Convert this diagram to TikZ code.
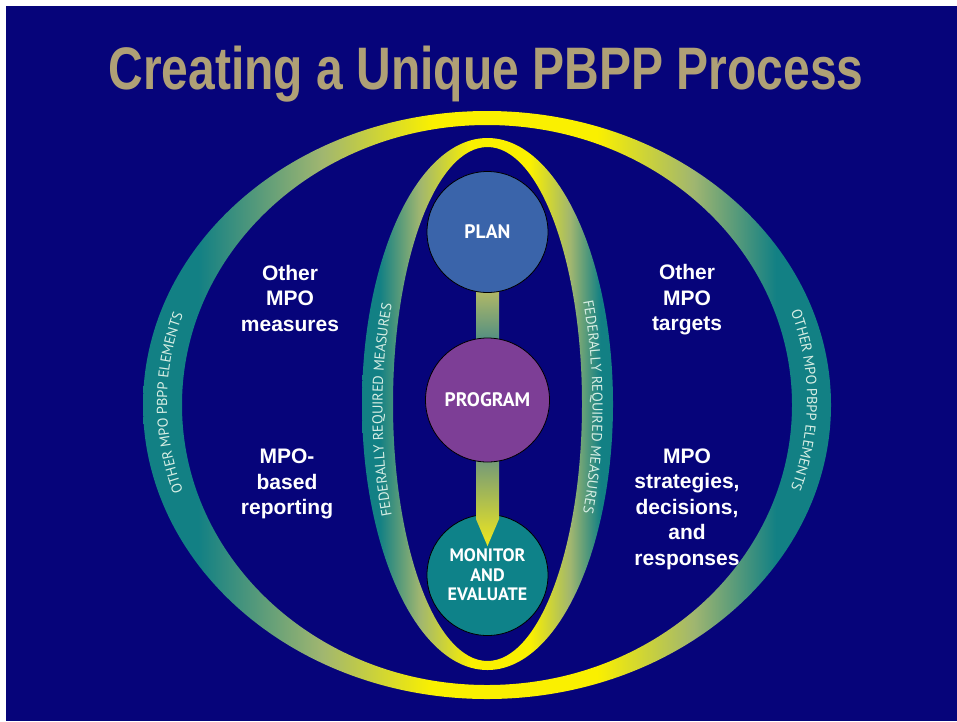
\documentclass[tikz,border=0pt]{standalone}
\usepackage{fontspec}
\setmainfont{Liberation Sans}
\newfontfamily\titlefont[FakeStretch=0.8]{Liberation Sans}
\newfontfamily\ptsans{PT Sans}
\usetikzlibrary{decorations.text,calc}
\definecolor{bgblue}{RGB}{6,4,122}
\definecolor{titletan}{RGB}{175,160,118}
\definecolor{rteal}{RGB}{18,128,132}
\definecolor{rpale}{RGB}{160,182,112}
\definecolor{ryellow}{RGB}{250,240,0}
\definecolor{plancol}{RGB}{58,100,170}
\definecolor{progcol}{RGB}{125,62,150}
\definecolor{moncol}{RGB}{14,130,137}
\definecolor{ringtxt}{RGB}{215,238,228}
\definecolor{barA}{RGB}{185,188,100}
\definecolor{barB}{RGB}{75,140,132}
\definecolor{barC}{RGB}{110,150,125}
\definecolor{barD}{RGB}{240,232,30}
\pgfdeclarehorizontalshading{outershade}{100bp}{color(0bp)=(rteal); color(29bp)=(rteal); color(38bp)=(rpale); color(46bp)=(ryellow); color(58bp)=(ryellow); color(65bp)=(rpale); color(71bp)=(rteal); color(100bp)=(rteal)}
\pgfdeclarehorizontalshading{innershade}{100bp}{color(0bp)=(rteal); color(28.5bp)=(rteal); color(36.5bp)=(rpale); color(46.5bp)=(ryellow); color(58.5bp)=(ryellow); color(66.5bp)=(rpale); color(72.5bp)=(rteal); color(100bp)=(rteal)}
\pgfdeclarelayer{back}
\pgfdeclarelayer{low}
\pgfdeclarelayer{bars}
\pgfsetlayers{back,low,bars,main}
\newcommand\ringfont{\ptsans\fontsize{14.4}{14.4}\selectfont}
\newcommand\innerringfont{\ptsans\fontsize{14.4}{14.4}\selectfont}
\begin{document}
\begin{tikzpicture}[x=1pt,y=-1pt,
  stage/.style={circle, draw=black, line width=0.8pt, inner sep=0pt, minimum size=121pt, text=white, align=center, font=\ptsans\bfseries\fontsize{19.5}{19.5}\selectfont},
  bodytxt/.style={text=white, align=center, font=\bfseries\fontsize{21}{25.5}\selectfont},
  ringlabel/.style={decorate, decoration={text along path, text={|\ringfont|#1}, text color=ringtxt, text align=center, raise=-5pt}},
  innerlabel/.style={decorate, decoration={text along path, text={|\innerringfont|#1}, text color=ringtxt, text align=center, raise=-5pt}}
]
\useasboundingbox (0,0) rectangle (957,721);
\begin{pgfonlayer}{back}
\fill[white] (0,0) rectangle (957,721);
\fill[bgblue] (6,6) rectangle (957,721);
\end{pgfonlayer}

\node[anchor=base, text=titletan, font=\titlefont\bfseries\fontsize{60}{60}\selectfont] (title) at (486,89) {Creating a Unique PBPP Process};

\begin{pgfonlayer}{low}
\shade[shading=outershade, even odd rule] (487,405) ellipse [x radius=344, y radius=294] (487,405) ellipse [x radius=305, y radius=280];
\shade[shading=innershade, even odd rule] (487.5,404) ellipse [x radius=125.5, y radius=266] (487.5,404) ellipse [x radius=94.5, y radius=257];
\node[stage, fill=moncol, font=\ptsans\bfseries\fontsize{18}{19.5}\selectfont] (monitor) at (487.5,575) {MONITOR\\AND\\EVALUATE};
\end{pgfonlayer}

\node[stage, fill=plancol] (plan) at (487.5,232) {PLAN};
\node[stage, fill=progcol, minimum size=124pt] (program) at (487.5,400) {PROGRAM};

\begin{pgfonlayer}{bars}
\shade[top color=barA, bottom color=barB] ($(plan.south)+(-11.5,-6)$) rectangle ($(program.north)+(11.5,6)$);
\shade[top color=barC, bottom color=barD] ($(program.south)+(-11.5,-6)$) -- ($(program.south)+(11.5,-6)$) -- ($(monitor.north)+(11.5,5)$) -- ($(monitor.north)+(0,32)$) -- ($(monitor.north)+(-11.5,5)$) -- cycle;
\end{pgfonlayer}

\path[ringlabel={OTHER MPO PBPP ELEMENTS}] ([shift={(487,403)}]140:325 and 287) arc[start angle=140, end angle=220, x radius=325, y radius=287];
\path[ringlabel={OTHER MPO PBPP ELEMENTS}] ([shift={(487,400)}]-40:325 and 287) arc[start angle=-40, end angle=40, x radius=325, y radius=287];
\path[innerlabel={FEDERALLY REQUIRED MEASURES}] ([shift={(487.5,410)}]140:110 and 261) arc[start angle=140, end angle=220, x radius=110, y radius=261];
\path[innerlabel={FEDERALLY REQUIRED MEASURES}] ([shift={(487.5,407)}]-40:110 and 261) arc[start angle=-40, end angle=40, x radius=110, y radius=261];

\node[bodytxt] (lt) at (290,298) {Other\\MPO\\measures};
\node[bodytxt] (lb) at (287,484) {MPO-\\based\\reporting};
\node[bodytxt] (rt) at (687,300) {Other\\MPO\\targets};
\node[bodytxt] (rb) at (687,509) {MPO\\strategies,\\decisions,\\and\\responses};
\end{tikzpicture}
\end{document}
